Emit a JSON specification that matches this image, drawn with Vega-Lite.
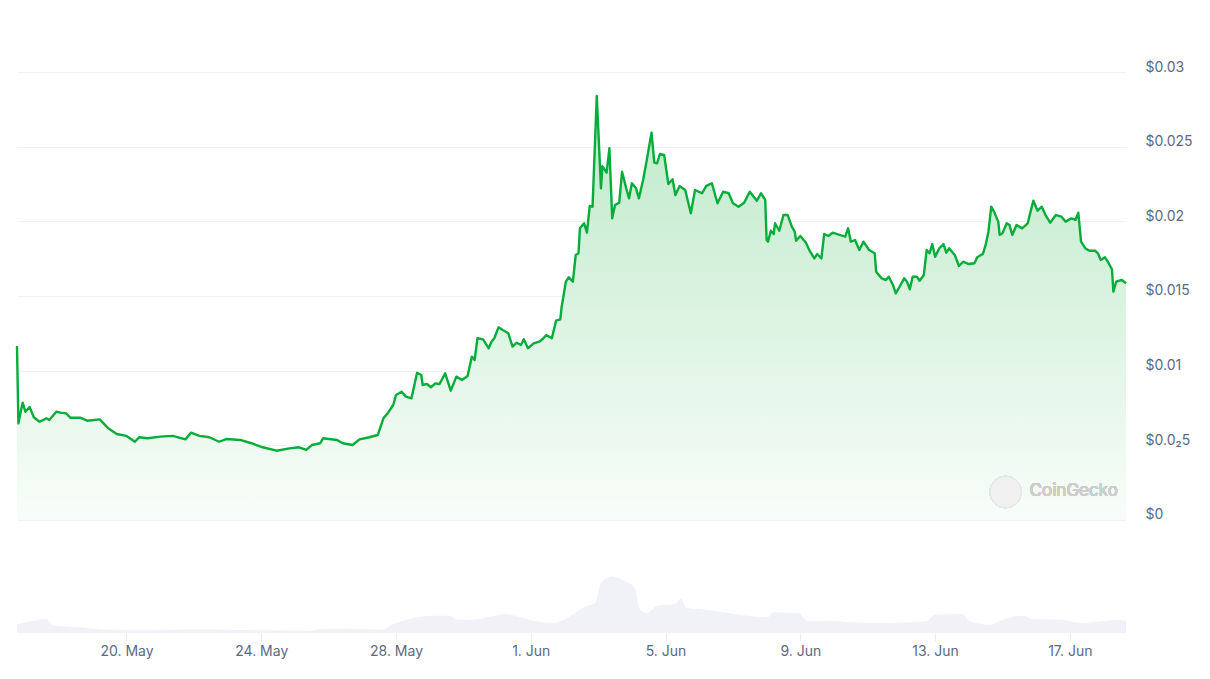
{
  "$schema": "https://vega.github.io/schema/vega-lite/v6.json",
  "width": 1109,
  "height": 561,
  "autosize": "none",
  "padding": {"left": 17, "top": 72, "right": 84, "bottom": 46},
  "background": "white",
  "config": {
    "view": {"stroke": null},
    "font": "Inter",
    "axis": {"labelFont": "Inter", "labelColor": "#5b6a84", "labelFontSize": 14}
  },
  "datasets": {
    "price": [
      {"t": "2024-05-16T18:00", "p": 0.01165},
      {"t": "2024-05-16T19:00", "p": 0.00648},
      {"t": "2024-05-16T22:00", "p": 0.00786},
      {"t": "2024-05-17T00:00", "p": 0.00725},
      {"t": "2024-05-17T03:00", "p": 0.00757},
      {"t": "2024-05-17T06:00", "p": 0.00688},
      {"t": "2024-05-17T10:00", "p": 0.00658},
      {"t": "2024-05-17T15:00", "p": 0.00681},
      {"t": "2024-05-17T17:00", "p": 0.0067},
      {"t": "2024-05-17T22:00", "p": 0.00725},
      {"t": "2024-05-18T01:00", "p": 0.00719},
      {"t": "2024-05-18T05:00", "p": 0.00714},
      {"t": "2024-05-18T08:00", "p": 0.00685},
      {"t": "2024-05-18T15:00", "p": 0.00685},
      {"t": "2024-05-18T20:00", "p": 0.00665},
      {"t": "2024-05-19T05:00", "p": 0.00674},
      {"t": "2024-05-19T11:00", "p": 0.00614},
      {"t": "2024-05-19T17:00", "p": 0.00576},
      {"t": "2024-05-20T00:00", "p": 0.00563},
      {"t": "2024-05-20T06:00", "p": 0.00524},
      {"t": "2024-05-20T09:00", "p": 0.00554},
      {"t": "2024-05-20T15:00", "p": 0.00547},
      {"t": "2024-05-21T00:00", "p": 0.00558},
      {"t": "2024-05-21T09:00", "p": 0.00563},
      {"t": "2024-05-21T18:00", "p": 0.0054},
      {"t": "2024-05-21T22:00", "p": 0.00585},
      {"t": "2024-05-22T04:00", "p": 0.00563},
      {"t": "2024-05-22T11:00", "p": 0.00554},
      {"t": "2024-05-22T18:00", "p": 0.00524},
      {"t": "2024-05-22T23:00", "p": 0.00542},
      {"t": "2024-05-23T09:00", "p": 0.00536},
      {"t": "2024-05-23T17:00", "p": 0.00514},
      {"t": "2024-05-24T01:00", "p": 0.00487},
      {"t": "2024-05-24T11:00", "p": 0.00464},
      {"t": "2024-05-24T20:00", "p": 0.0048},
      {"t": "2024-05-25T03:00", "p": 0.00487},
      {"t": "2024-05-25T08:00", "p": 0.00469},
      {"t": "2024-05-25T12:00", "p": 0.00502},
      {"t": "2024-05-25T18:00", "p": 0.00514},
      {"t": "2024-05-25T20:00", "p": 0.00547},
      {"t": "2024-05-26T06:00", "p": 0.00536},
      {"t": "2024-05-26T10:00", "p": 0.00514},
      {"t": "2024-05-26T17:00", "p": 0.00502},
      {"t": "2024-05-26T22:00", "p": 0.0054},
      {"t": "2024-05-27T05:00", "p": 0.00554},
      {"t": "2024-05-27T11:00", "p": 0.00569},
      {"t": "2024-05-27T15:00", "p": 0.00681},
      {"t": "2024-05-27T18:00", "p": 0.00714},
      {"t": "2024-05-27T22:00", "p": 0.0077},
      {"t": "2024-05-28T00:00", "p": 0.00837},
      {"t": "2024-05-28T04:00", "p": 0.00859},
      {"t": "2024-05-28T07:00", "p": 0.00826},
      {"t": "2024-05-28T11:00", "p": 0.00815},
      {"t": "2024-05-28T15:00", "p": 0.00986},
      {"t": "2024-05-28T18:00", "p": 0.00971},
      {"t": "2024-05-28T19:00", "p": 0.00904},
      {"t": "2024-05-28T22:00", "p": 0.00911},
      {"t": "2024-05-29T01:00", "p": 0.00889},
      {"t": "2024-05-29T04:00", "p": 0.00915},
      {"t": "2024-05-29T07:00", "p": 0.00911},
      {"t": "2024-05-29T11:00", "p": 0.00982},
      {"t": "2024-05-29T15:00", "p": 0.00866},
      {"t": "2024-05-29T19:00", "p": 0.0096},
      {"t": "2024-05-29T23:00", "p": 0.00938},
      {"t": "2024-05-30T03:00", "p": 0.00964},
      {"t": "2024-05-30T06:00", "p": 0.01094},
      {"t": "2024-05-30T08:00", "p": 0.01071},
      {"t": "2024-05-30T10:00", "p": 0.01217},
      {"t": "2024-05-30T14:00", "p": 0.0121},
      {"t": "2024-05-30T18:00", "p": 0.0115},
      {"t": "2024-05-30T20:00", "p": 0.01194},
      {"t": "2024-05-30T22:00", "p": 0.01217},
      {"t": "2024-05-31T01:00", "p": 0.0129},
      {"t": "2024-05-31T04:00", "p": 0.01272},
      {"t": "2024-05-31T08:00", "p": 0.0125},
      {"t": "2024-05-31T11:00", "p": 0.01161},
      {"t": "2024-05-31T14:00", "p": 0.01187},
      {"t": "2024-05-31T17:00", "p": 0.01172},
      {"t": "2024-05-31T19:00", "p": 0.0121},
      {"t": "2024-05-31T22:00", "p": 0.0115},
      {"t": "2024-06-01T02:00", "p": 0.01183},
      {"t": "2024-06-01T06:00", "p": 0.01194},
      {"t": "2024-06-01T09:00", "p": 0.01217},
      {"t": "2024-06-01T11:00", "p": 0.01239},
      {"t": "2024-06-01T15:00", "p": 0.01217},
      {"t": "2024-06-01T18:00", "p": 0.01335},
      {"t": "2024-06-01T21:00", "p": 0.01344},
      {"t": "2024-06-01T22:00", "p": 0.01428},
      {"t": "2024-06-02T01:00", "p": 0.01596},
      {"t": "2024-06-02T03:00", "p": 0.01625},
      {"t": "2024-06-02T06:00", "p": 0.01596},
      {"t": "2024-06-02T08:00", "p": 0.01775},
      {"t": "2024-06-02T10:00", "p": 0.01786},
      {"t": "2024-06-02T11:00", "p": 0.01953},
      {"t": "2024-06-02T14:00", "p": 0.01987},
      {"t": "2024-06-02T16:00", "p": 0.01924},
      {"t": "2024-06-02T18:00", "p": 0.02103},
      {"t": "2024-06-02T20:00", "p": 0.02098},
      {"t": "2024-06-02T23:00", "p": 0.02839},
      {"t": "2024-06-03T02:00", "p": 0.02221},
      {"t": "2024-06-03T03:00", "p": 0.0237},
      {"t": "2024-06-03T06:00", "p": 0.02326},
      {"t": "2024-06-03T08:00", "p": 0.02489},
      {"t": "2024-06-03T10:00", "p": 0.0202},
      {"t": "2024-06-03T12:00", "p": 0.02109},
      {"t": "2024-06-03T15:00", "p": 0.02125},
      {"t": "2024-06-03T17:00", "p": 0.02332},
      {"t": "2024-06-03T20:00", "p": 0.02221},
      {"t": "2024-06-03T22:00", "p": 0.02154},
      {"t": "2024-06-04T00:00", "p": 0.02255},
      {"t": "2024-06-04T03:00", "p": 0.02221},
      {"t": "2024-06-04T05:00", "p": 0.02154},
      {"t": "2024-06-04T08:00", "p": 0.02277},
      {"t": "2024-06-04T10:00", "p": 0.02377},
      {"t": "2024-06-04T14:00", "p": 0.02594},
      {"t": "2024-06-04T16:00", "p": 0.02393},
      {"t": "2024-06-04T18:00", "p": 0.02389},
      {"t": "2024-06-04T20:00", "p": 0.02451},
      {"t": "2024-06-04T23:00", "p": 0.02444},
      {"t": "2024-06-05T02:00", "p": 0.0225},
      {"t": "2024-06-05T05:00", "p": 0.02281},
      {"t": "2024-06-05T07:00", "p": 0.02176},
      {"t": "2024-06-05T10:00", "p": 0.02237},
      {"t": "2024-06-05T14:00", "p": 0.0221},
      {"t": "2024-06-05T18:00", "p": 0.02054},
      {"t": "2024-06-05T21:00", "p": 0.0221},
      {"t": "2024-06-06T02:00", "p": 0.02188},
      {"t": "2024-06-06T05:00", "p": 0.02237},
      {"t": "2024-06-06T09:00", "p": 0.02255},
      {"t": "2024-06-06T13:00", "p": 0.02121},
      {"t": "2024-06-06T17:00", "p": 0.02198},
      {"t": "2024-06-06T21:00", "p": 0.02188},
      {"t": "2024-06-07T00:00", "p": 0.02121},
      {"t": "2024-06-07T04:00", "p": 0.02098},
      {"t": "2024-06-07T08:00", "p": 0.02125},
      {"t": "2024-06-07T12:00", "p": 0.02198},
      {"t": "2024-06-07T17:00", "p": 0.02138},
      {"t": "2024-06-07T20:00", "p": 0.02188},
      {"t": "2024-06-07T23:00", "p": 0.02143},
      {"t": "2024-06-08T00:00", "p": 0.01875},
      {"t": "2024-06-08T01:00", "p": 0.01864},
      {"t": "2024-06-08T03:00", "p": 0.01937},
      {"t": "2024-06-08T05:00", "p": 0.01915},
      {"t": "2024-06-08T06:00", "p": 0.01987},
      {"t": "2024-06-08T09:00", "p": 0.01937},
      {"t": "2024-06-08T12:00", "p": 0.02042},
      {"t": "2024-06-08T15:00", "p": 0.02042},
      {"t": "2024-06-08T18:00", "p": 0.01964},
      {"t": "2024-06-08T20:00", "p": 0.01931},
      {"t": "2024-06-08T21:00", "p": 0.0187},
      {"t": "2024-06-09T00:00", "p": 0.01902},
      {"t": "2024-06-09T04:00", "p": 0.01857},
      {"t": "2024-06-09T07:00", "p": 0.01797},
      {"t": "2024-06-09T10:00", "p": 0.01752},
      {"t": "2024-06-09T12:00", "p": 0.01781},
      {"t": "2024-06-09T15:00", "p": 0.01752},
      {"t": "2024-06-09T17:00", "p": 0.01915},
      {"t": "2024-06-09T20:00", "p": 0.01902},
      {"t": "2024-06-09T23:00", "p": 0.01924},
      {"t": "2024-06-10T04:00", "p": 0.01909},
      {"t": "2024-06-10T08:00", "p": 0.01897},
      {"t": "2024-06-10T10:00", "p": 0.01953},
      {"t": "2024-06-10T12:00", "p": 0.01864},
      {"t": "2024-06-10T15:00", "p": 0.01875},
      {"t": "2024-06-10T18:00", "p": 0.01808},
      {"t": "2024-06-10T21:00", "p": 0.01864},
      {"t": "2024-06-11T01:00", "p": 0.01808},
      {"t": "2024-06-11T05:00", "p": 0.01786},
      {"t": "2024-06-11T06:00", "p": 0.01663},
      {"t": "2024-06-11T10:00", "p": 0.01618},
      {"t": "2024-06-11T13:00", "p": 0.01607},
      {"t": "2024-06-11T15:00", "p": 0.01629},
      {"t": "2024-06-11T18:00", "p": 0.01574},
      {"t": "2024-06-11T20:00", "p": 0.01518},
      {"t": "2024-06-11T23:00", "p": 0.01567},
      {"t": "2024-06-12T02:00", "p": 0.01618},
      {"t": "2024-06-12T04:00", "p": 0.01596},
      {"t": "2024-06-12T06:00", "p": 0.01545},
      {"t": "2024-06-12T08:00", "p": 0.01629},
      {"t": "2024-06-12T11:00", "p": 0.01629},
      {"t": "2024-06-12T13:00", "p": 0.01602},
      {"t": "2024-06-12T16:00", "p": 0.01641},
      {"t": "2024-06-12T18:00", "p": 0.01808},
      {"t": "2024-06-12T20:00", "p": 0.01786},
      {"t": "2024-06-12T22:00", "p": 0.01848},
      {"t": "2024-06-13T00:00", "p": 0.01763},
      {"t": "2024-06-13T03:00", "p": 0.01819},
      {"t": "2024-06-13T06:00", "p": 0.01848},
      {"t": "2024-06-13T08:00", "p": 0.0179},
      {"t": "2024-06-13T10:00", "p": 0.01819},
      {"t": "2024-06-13T14:00", "p": 0.01775},
      {"t": "2024-06-13T17:00", "p": 0.01701},
      {"t": "2024-06-13T20:00", "p": 0.0173},
      {"t": "2024-06-14T00:00", "p": 0.01714},
      {"t": "2024-06-14T04:00", "p": 0.01719},
      {"t": "2024-06-14T06:00", "p": 0.01759},
      {"t": "2024-06-14T10:00", "p": 0.01781},
      {"t": "2024-06-14T12:00", "p": 0.01842},
      {"t": "2024-06-14T14:00", "p": 0.01931},
      {"t": "2024-06-14T16:00", "p": 0.02098},
      {"t": "2024-06-14T18:00", "p": 0.02065},
      {"t": "2024-06-14T21:00", "p": 0.01998},
      {"t": "2024-06-14T22:00", "p": 0.01909},
      {"t": "2024-06-15T00:00", "p": 0.0192},
      {"t": "2024-06-15T03:00", "p": 0.01987},
      {"t": "2024-06-15T05:00", "p": 0.01975},
      {"t": "2024-06-15T07:00", "p": 0.01909},
      {"t": "2024-06-15T10:00", "p": 0.01975},
      {"t": "2024-06-15T14:00", "p": 0.01953},
      {"t": "2024-06-15T18:00", "p": 0.01987},
      {"t": "2024-06-15T20:00", "p": 0.02065},
      {"t": "2024-06-15T22:00", "p": 0.02138},
      {"t": "2024-06-16T01:00", "p": 0.02071},
      {"t": "2024-06-16T04:00", "p": 0.02098},
      {"t": "2024-06-16T07:00", "p": 0.02036},
      {"t": "2024-06-16T10:00", "p": 0.01991},
      {"t": "2024-06-16T14:00", "p": 0.02042},
      {"t": "2024-06-16T18:00", "p": 0.02031},
      {"t": "2024-06-16T21:00", "p": 0.01998},
      {"t": "2024-06-17T01:00", "p": 0.0202},
      {"t": "2024-06-17T04:00", "p": 0.02009},
      {"t": "2024-06-17T06:00", "p": 0.02058},
      {"t": "2024-06-17T08:00", "p": 0.01864},
      {"t": "2024-06-17T11:00", "p": 0.01819},
      {"t": "2024-06-17T14:00", "p": 0.01803},
      {"t": "2024-06-17T18:00", "p": 0.01803},
      {"t": "2024-06-17T20:00", "p": 0.01786},
      {"t": "2024-06-17T22:00", "p": 0.01741},
      {"t": "2024-06-18T01:00", "p": 0.01759},
      {"t": "2024-06-18T03:00", "p": 0.0173},
      {"t": "2024-06-18T06:00", "p": 0.01679},
      {"t": "2024-06-18T07:00", "p": 0.01529},
      {"t": "2024-06-18T09:00", "p": 0.01596},
      {"t": "2024-06-18T13:00", "p": 0.01607},
      {"t": "2024-06-18T16:00", "p": 0.01585}
    ],
    "volume": [
      {"t": "2024-05-16T18:00", "v": 0.83},
      {"t": "2024-05-17T04:00", "v": 1.17},
      {"t": "2024-05-17T15:00", "v": 1.4},
      {"t": "2024-05-17T19:00", "v": 0.83},
      {"t": "2024-05-18T02:00", "v": 0.67},
      {"t": "2024-05-18T13:00", "v": 0.6},
      {"t": "2024-05-19T00:00", "v": 0.43},
      {"t": "2024-05-19T11:00", "v": 0.33},
      {"t": "2024-05-20T20:00", "v": 0.27},
      {"t": "2024-05-22T00:00", "v": 0.37},
      {"t": "2024-05-23T04:00", "v": 0.3},
      {"t": "2024-05-24T07:00", "v": 0.27},
      {"t": "2024-05-25T10:00", "v": 0.23},
      {"t": "2024-05-25T22:00", "v": 0.43},
      {"t": "2024-05-27T01:00", "v": 0.4},
      {"t": "2024-05-27T15:00", "v": 0.33},
      {"t": "2024-05-27T21:00", "v": 0.83},
      {"t": "2024-05-28T05:00", "v": 1.23},
      {"t": "2024-05-28T16:00", "v": 1.6},
      {"t": "2024-05-29T03:00", "v": 1.73},
      {"t": "2024-05-29T14:00", "v": 1.73},
      {"t": "2024-05-29T20:00", "v": 1.33},
      {"t": "2024-05-30T07:00", "v": 1.33},
      {"t": "2024-05-30T18:00", "v": 1.6},
      {"t": "2024-05-31T05:00", "v": 1.9},
      {"t": "2024-05-31T16:00", "v": 1.6},
      {"t": "2024-06-01T03:00", "v": 1.17},
      {"t": "2024-06-01T17:00", "v": 1.0},
      {"t": "2024-06-02T04:00", "v": 1.67},
      {"t": "2024-06-02T15:00", "v": 2.67},
      {"t": "2024-06-02T22:00", "v": 3.0},
      {"t": "2024-06-03T02:00", "v": 5.0},
      {"t": "2024-06-03T10:00", "v": 5.67},
      {"t": "2024-06-03T19:00", "v": 5.17},
      {"t": "2024-06-04T02:00", "v": 4.5},
      {"t": "2024-06-04T06:00", "v": 2.33},
      {"t": "2024-06-04T11:00", "v": 2.0},
      {"t": "2024-06-04T18:00", "v": 2.73},
      {"t": "2024-06-05T07:00", "v": 2.93},
      {"t": "2024-06-05T11:00", "v": 3.4},
      {"t": "2024-06-05T15:00", "v": 2.5},
      {"t": "2024-06-06T05:00", "v": 2.33},
      {"t": "2024-06-06T21:00", "v": 2.0},
      {"t": "2024-06-07T14:00", "v": 1.67},
      {"t": "2024-06-08T01:00", "v": 1.6},
      {"t": "2024-06-08T05:00", "v": 2.07},
      {"t": "2024-06-08T23:00", "v": 2.0},
      {"t": "2024-06-09T05:00", "v": 1.17},
      {"t": "2024-06-09T21:00", "v": 1.23},
      {"t": "2024-06-10T13:00", "v": 1.07},
      {"t": "2024-06-11T11:00", "v": 1.0},
      {"t": "2024-06-12T18:00", "v": 1.17},
      {"t": "2024-06-13T00:00", "v": 1.83},
      {"t": "2024-06-13T19:00", "v": 1.9},
      {"t": "2024-06-14T01:00", "v": 1.17},
      {"t": "2024-06-14T14:00", "v": 0.83},
      {"t": "2024-06-15T04:00", "v": 1.5},
      {"t": "2024-06-15T15:00", "v": 1.73},
      {"t": "2024-06-15T21:00", "v": 1.4},
      {"t": "2024-06-16T19:00", "v": 1.33},
      {"t": "2024-06-17T08:00", "v": 1.0},
      {"t": "2024-06-17T23:00", "v": 1.17},
      {"t": "2024-06-18T09:00", "v": 1.33},
      {"t": "2024-06-18T16:00", "v": 1.23}
    ]
  },
  "layer": [
    {
      "data": {"name": "volume"},
      "mark": {"type": "area", "color": "#f0f2f7", "interpolate": "monotone"},
      "encoding": {
        "x": {
          "field": "t",
          "type": "temporal",
          "title": null,
          "scale": {"domain": ["2024-05-16T18:00", "2024-06-18T16:00"]},
          "axis": {
            "values": [
              {"year": 2024, "month": 5, "date": 20},
              {"year": 2024, "month": 5, "date": 24},
              {"year": 2024, "month": 5, "date": 28},
              {"year": 2024, "month": 6, "date": 1},
              {"year": 2024, "month": 6, "date": 5},
              {"year": 2024, "month": 6, "date": 9},
              {"year": 2024, "month": 6, "date": 13},
              {"year": 2024, "month": 6, "date": 17}
            ],
            "format": "%-d. %b",
            "grid": false,
            "domain": false,
            "ticks": true,
            "tickSize": 8,
            "tickColor": "#e8ebf1",
            "labelPadding": 3,
            "labelFlush": false
          }
        },
        "y": {
          "field": "v",
          "type": "quantitative",
          "scale": {"domain": [0, 56.1], "nice": false},
          "axis": null
        }
      }
    },
    {
      "data": {"name": "price"},
      "layer": [
        {
          "mark": {
            "type": "area",
            "fill": {
              "gradient": "linear",
              "x1": 0, "y1": 0, "x2": 0, "y2": 1,
              "stops": [
                {"offset": 0, "color": "#bde9c8"},
                {"offset": 1, "color": "#f8fdf9"}
              ]
            }
          },
          "encoding": {
            "x": {"field": "t", "type": "temporal"},
            "y": {
              "field": "p",
              "type": "quantitative",
              "scale": {"domain": [-0.007567, 0.03], "nice": false, "zero": false},
              "axis": {
                "orient": "right",
                "title": null,
                "values": [0, 0.005, 0.01, 0.015, 0.02, 0.025, 0.03],
                "labelExpr": "datum.value == 0 ? '$0' : (abs(datum.value - 0.005) < 1e-9 ? '$0.0₂5' : '$' + format(datum.value, '~g'))",
                "grid": true,
                "gridColor": "#f0f1f4",
                "domain": false,
                "ticks": false,
                "labelPadding": 19,
                "labelAlign": "left",
                "labelBaseline": "bottom",
                "labelOffset": 2
              }
            },
            "y2": {"datum": 0}
          }
        },
        {
          "mark": {"type": "point", "filled": true, "fill": "#f0f0f0", "stroke": "#e4e4e4", "strokeWidth": 1, "size": 1000, "opacity": 1},
          "encoding": {
            "x": {"datum": {"year": 2024, "month": 6, "date": 15, "hours": 2, "minutes": 12}, "type": "temporal"},
            "y": {"datum": 0.001875, "type": "quantitative"}
          }
        },
        {
          "mark": {"type": "text", "text": "CoinGecko", "align": "left", "baseline": "middle", "fontSize": 17, "color": "#cdcdcd"},
          "encoding": {
            "x": {"datum": {"year": 2024, "month": 6, "date": 15, "hours": 19, "minutes": 20}, "type": "temporal"},
            "y": {"datum": 0.00194, "type": "quantitative"}
          }
        },
        {
          "mark": {"type": "line", "color": "#06ad3b", "strokeWidth": 2.4, "strokeJoin": "round"},
          "encoding": {
            "x": {"field": "t", "type": "temporal"},
            "y": {"field": "p", "type": "quantitative"}
          }
        }
      ]
    }
  ],
  "resolve": {"scale": {"y": "independent"}}
}
